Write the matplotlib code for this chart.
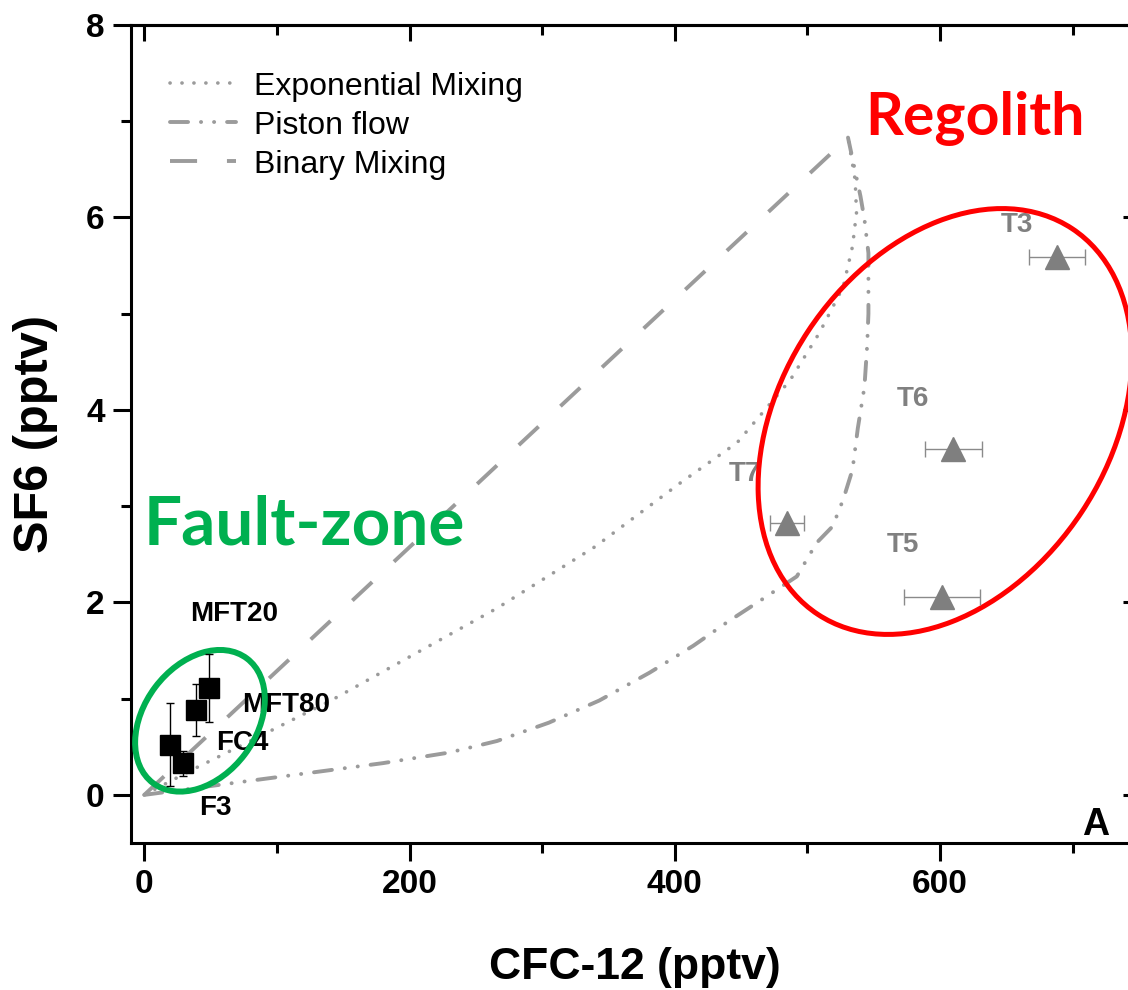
import matplotlib
matplotlib.use('Agg')
import matplotlib.pyplot as plt
from matplotlib.patches import Ellipse
from matplotlib.transforms import ScaledTranslation

plt.rcParams['font.family'] = ['Liberation Sans', 'DejaVu Sans']
plt.rcParams['lines.scale_dashes'] = False

# model curves (CFC-12, SF6)
exp_x = [0, 36, 80, 142, 266, 340, 404, 447, 487, 509, 527, 534, 537, 536, 530.6]
exp_y = [0, 0.26, 0.56, 0.99, 1.94, 2.58, 3.24, 3.66, 4.31, 4.80, 5.28, 5.70, 6.05, 6.39, 6.83]

pist_x = [0, 87, 180, 230, 266, 305, 343, 381, 414, 439, 469, 492, 507, 519, 527, 534, 538, 543, 545, 546, 546, 543, 540, 530.6]
pist_y = [0, 0.16, 0.33, 0.44, 0.56, 0.75, 0.98, 1.27, 1.55, 1.79, 2.06, 2.27, 2.62, 2.79, 3.07, 3.38, 3.81, 4.24, 4.66, 5.0, 5.63, 5.98, 6.22, 6.83]

bin_x = [0, 530.6]
bin_y = [0, 6.83]

# fault-zone samples
fz_names = ['MFT20', 'MFT80', 'FC4', 'F3']
fz_x = [48.8, 39.0, 19.4, 29.2]
fz_y = [1.11, 0.88, 0.52, 0.33]
fz_err = [0.35, 0.27, 0.43, 0.13]
fz_offsets = [(18, 53), (65, 4), (52, 1.5), (23, -32)]

# regolith samples
rg_names = ['T3', 'T6', 'T7', 'T5']
rg_x = [688.3, 609.8, 484.5, 601.5]
rg_y = [5.59, 3.59, 2.83, 2.06]
rg_err = [21, 21.5, 13, 28.7]
rg_offsets = [(-29, 23), (-29, 36), (-30, 35), (-28, 37)]

fig = plt.figure(figsize=(11.28, 9.9), dpi=100)
ax = fig.add_axes([131 / 1128, 147 / 990, 1008 / 1128, 818 / 990])

gray = '#9b9b9b'
ax.plot(exp_x, exp_y, color=gray, lw=2.6, dashes=(0.1, 8.5), dash_capstyle='round',
        label='Exponential Mixing', zorder=2)
ax.plot(pist_x, pist_y, color=gray, lw=2.8, dashes=(13, 9.3, 0.1, 9.3, 0.1, 9.3),
        dash_capstyle='round', label='Piston flow', zorder=2)
ax.plot(bin_x, bin_y, color=gray, lw=2.8, dashes=(19.5, 21.5), label='Binary Mixing', zorder=2)

ax.errorbar(fz_x, fz_y, yerr=fz_err, fmt='s', color='black', ms=14, ecolor='black',
            elinewidth=1, capsize=3, capthick=1, zorder=6)
ax.errorbar(rg_x, rg_y, xerr=rg_err, fmt='^', color='#7f7f7f', ms=17, ecolor='#8a8a8a',
            elinewidth=1, capsize=6, capthick=1, zorder=6)

for name, x, y, off in zip(fz_names, fz_x, fz_y, fz_offsets):
    ax.annotate(name, (x, y), xytext=off, textcoords='offset points', ha='center',
                va='center', fontsize=20, fontweight='bold', color='black', zorder=3)
for name, x, y, off in zip(rg_names, rg_x, rg_y, rg_offsets):
    ax.annotate(name, (x, y), xytext=off, textcoords='offset points', ha='center',
                va='center', fontsize=20, fontweight='bold', color='#808080', zorder=3)


def ring(cx, cy, w, h, ang, color, lw):
    tr = fig.dpi_scale_trans + ScaledTranslation(cx, cy, ax.transData)
    ax.add_patch(Ellipse((0, 0), w, h, angle=ang, transform=tr, fill=False,
                         edgecolor=color, lw=lw, zorder=5))


ring(42, 0.77, 1.56, 1.12, 53, '#00b050', 4.3)
ring(603.7, 3.88, 4.62, 3.28, 56.6, '#ff0000', 3.6)

ax.text(626.5, 6.86, 'Regolith', color='#ff0000', fontsize=42.5, fontweight='bold',
        family=['Lato', 'DejaVu Sans'], ha='center', va='baseline')
ax.text(120.4, 2.60, 'Fault-zone', color='#00b050', fontsize=48.5, fontweight='bold',
        family=['Lato', 'DejaVu Sans'], ha='center', va='baseline')
ax.text(717, -0.42, 'A', fontsize=27, fontweight='bold', ha='center', va='baseline')

ax.set_xlim(-10, 750)
ax.set_ylim(-0.5, 8)
ax.set_xticks([0, 200, 400, 600])
ax.set_xticks([100, 300, 500, 700], minor=True)
ax.set_yticks([0, 2, 4, 6, 8])
ax.set_yticks([1, 3, 5, 7], minor=True)
ax.tick_params(which='major', direction='out', length=13, width=2.2, labelsize=24, pad=6)
ax.tick_params(which='minor', direction='out', length=7, width=2.2)
for lbl in ax.get_xticklabels() + ax.get_yticklabels():
    lbl.set_fontweight('bold')
for sp in ax.spines.values():
    sp.set_linewidth(2.2)

sx = ax.secondary_xaxis('top')
sx.set_xticks([0, 200, 400, 600])
sx.set_xticks([100, 300, 500, 700], minor=True)
sx.tick_params(which='major', direction='in', length=11.5, width=2.2, labeltop=False)
sx.tick_params(which='minor', direction='in', length=7, width=2.2)
sx.spines['top'].set_linewidth(2.2)

sy = ax.secondary_yaxis('right')
sy.set_yticks([0, 2, 4, 6, 8])
sy.set_yticks([1, 3, 5, 7], minor=True)
sy.tick_params(which='major', direction='in', length=11.5, width=2.2, labelright=False)
sy.tick_params(which='minor', direction='in', length=7, width=2.2)
sy.spines['right'].set_linewidth(2.2)

ax.set_xlabel('CFC-12 (pptv)', fontsize=32, fontweight='bold')
ax.xaxis.set_label_coords(0.5, -0.127)
ax.set_ylabel('SF6 (pptv)', fontsize=35, fontweight='bold')
ax.yaxis.set_label_coords(-0.072, 0.5)

ax.legend(loc='upper left', bbox_to_anchor=(0.0387, 0.943), frameon=False, fontsize=23,
          handlelength=2.07, handletextpad=0.56, labelspacing=0.28, borderaxespad=0, borderpad=0)

fig.savefig('out.png', dpi=100)
